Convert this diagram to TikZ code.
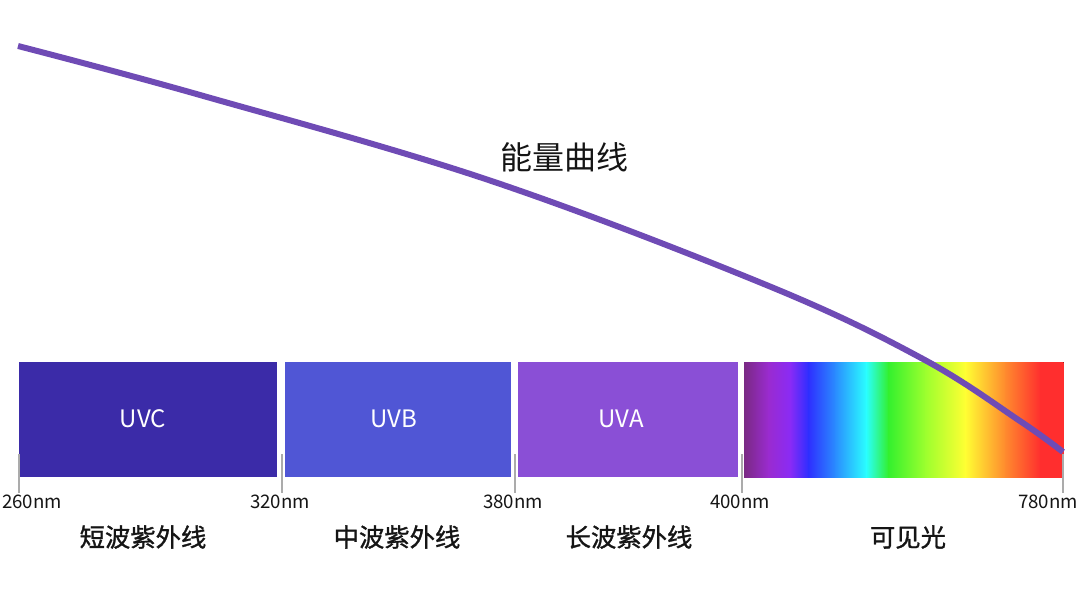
\documentclass[tikz,border=0pt]{standalone}
\usepackage{fontspec}
\setmainfont{Noto Sans CJK SC}
\newfontfamily\zhmid{Noto Sans CJK SC}[FakeBold=1.2]
\usepackage{xcolor}
\usepackage{tikz}
\usetikzlibrary{positioning}
\definecolor{curvepurple}{HTML}{6F4BB5}
\definecolor{uvcblue}{HTML}{3B2BA8}
\definecolor{uvbblue}{HTML}{5056D5}
\definecolor{uvapurple}{HTML}{8A4FD6}
\definecolor{tickgray}{HTML}{ABABAB}
\definecolor{labelblack}{HTML}{151515}
% spectrum stops
\definecolor{sp0}{HTML}{7A2A84}
\definecolor{sp1}{HTML}{9A2BCF}
\definecolor{sp2}{HTML}{8A2BF5}
\definecolor{sp3}{HTML}{2E2EFF}
\definecolor{sp4}{HTML}{2A8CFF}
\definecolor{sp5}{HTML}{2AFFFF}
\definecolor{sp6}{HTML}{33F02E}
\definecolor{sp7}{HTML}{9CFF2E}
\definecolor{sp8}{HTML}{FFFF33}
\definecolor{sp9}{HTML}{FF8A2E}
\definecolor{sp10}{HTML}{FF2E2E}
\newcommand{\pxu}{0.75pt}
\tikzset{
  band/.style={inner sep=0pt, minimum height=115*\pxu},
  bandtext/.style={text=white, inner sep=0pt, font=\fontsize{18}{18}\selectfont},
  nmtext/.style={text=labelblack, inner sep=0pt, font=\fontsize{14}{14}\selectfont},
  zhtext/.style={text=labelblack, inner sep=0pt, font=\zhmid\fontsize{19}{19}\selectfont},
  tickline/.style={draw=tickgray, line width=0.9pt}
}

\begin{document}
\begin{tikzpicture}[x=\pxu, y=-\pxu]
  \useasboundingbox (0,0) rectangle (1080,593);

  % bands
  \node[band, fill=uvcblue, minimum width=258*\pxu] (uvc) at (148,419.5) {};
  \node[band, fill=uvbblue, minimum width=226*\pxu] (uvb) at (398,419.5) {};
  \node[band, fill=uvapurple, minimum width=220*\pxu] (uva) at (628,419.5) {};
  \node[band, minimum width=319*\pxu] (vis) at (903.5,419.5) {};
  \foreach \xa/\xb/\ca/\cb in {744/768/sp0/sp1, 768/790/sp1/sp2, 790/808/sp2/sp3,
      808/835/sp3/sp4, 835/866/sp4/sp5, 866/888/sp5/sp6, 888/925/sp6/sp7,
      925/965/sp7/sp8, 965/1005/sp8/sp9, 1005/1040/sp9/sp10, 1040/1063/sp10/sp10}
    \fill[left color=\ca, right color=\cb] (\xa,362) rectangle (\xb+0.6,477);

  \node[bandtext] (uvctext) at (143,418.5) {UVC};
  \node[bandtext] (uvbtext) at (394,418.5) {UVB};
  \node[bandtext] (uvatext) at (621,418.5) {UVA};

  % ticks
  \foreach \tx/\lx/\nm in {19/32/260, 282/280/320, 515/513/380, 742/740/400, 1063/1048/780}{
    \draw[tickline] (\tx,454) -- (\tx,493);
    \node[nmtext] (nm\nm) at (\lx,501.5) {\nm nm};
  }

  % energy curve
  \draw[curvepurple, line width=6*\pxu] plot[smooth, tension=0.6] coordinates
    {(18,46) (200,95) (490,180.5) (770,286.5) (923,359) (1020,421) (1063,452)};
  \node[text=labelblack, inner sep=0pt, font=\fontsize{24}{24}\selectfont] (energy) at (564,157) {能量曲线};

  \node[zhtext] (zhuvc) at (143,537) {短波紫外线};
  \node[zhtext] (zhuvb) at (397,537) {中波紫外线};
  \node[zhtext] (zhuva) at (629,537) {长波紫外线};
  \node[zhtext] (zhvis) at (908,537) {可见光};
\end{tikzpicture}
\end{document}
